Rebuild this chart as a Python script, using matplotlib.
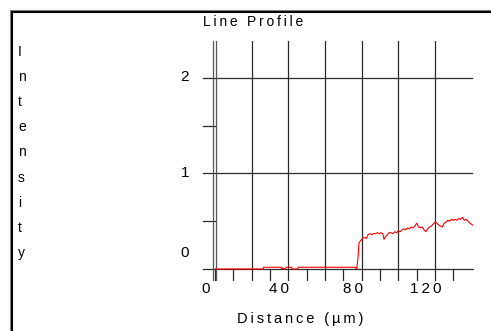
import matplotlib
matplotlib.use("Agg")
import matplotlib.pyplot as plt
from matplotlib.lines import Line2D

plt.rcParams['font.family'] = ['Liberation Sans', 'DejaVu Sans']

# line profile (distance in um, intensity)
distance = [0, 26.3, 26.5, 36, 36.4, 37, 38, 39, 41.8, 42, 45, 45.3, 76.5, 77, 77.3,
            78, 78.5, 79.5, 80.5, 81.5, 82.5, 83.5, 84.5, 85.5, 86.5, 87.5, 88.5, 89.5,
            90.5, 91.5, 92.2, 93, 94, 95, 96, 97, 98, 99, 100, 101, 102, 103, 104, 105,
            106, 107, 108, 109, 110, 111, 112, 113, 114, 115, 116, 117, 118, 119, 120,
            121, 122, 123, 124, 125, 126, 127, 128, 129, 130, 131, 132, 133, 134, 135,
            136, 137, 138, 139, 140.5]
intensity = [0, 0, 0.018, 0.018, 0.0, 0.012, 0.0, 0.018, 0.018, 0.0, 0.0, 0.018, 0.018,
             0.0, 0.0, 0.12, 0.27, 0.30, 0.32, 0.33, 0.32, 0.36, 0.37, 0.36, 0.37, 0.37,
             0.38, 0.37, 0.38, 0.37, 0.31, 0.34, 0.36, 0.38, 0.38, 0.37, 0.39, 0.38, 0.40,
             0.39, 0.41, 0.42, 0.41, 0.43, 0.42, 0.44, 0.43, 0.45, 0.48, 0.44, 0.43, 0.44,
             0.41, 0.39, 0.42, 0.44, 0.45, 0.47, 0.49, 0.48, 0.46, 0.45, 0.44, 0.48, 0.49,
             0.51, 0.50, 0.52, 0.51, 0.52, 0.51, 0.53, 0.52, 0.54, 0.51, 0.52, 0.50, 0.48,
             0.46]

x_labels = [0, 40, 80, 120]
y_labels = [0, 1, 2]
x_grid = [20, 40, 60, 80, 100, 120]
x_minor = [0, 10, 30, 50, 70, 90, 110, 130]
y_minor = [0.5, 1.5]

W, H = 491, 331
fig = plt.figure(figsize=(W / 100, H / 100), dpi=100)

# frame in the corner
fig.add_artist(Line2D([9.5 / W, 1], [1 - 9.5 / H, 1 - 9.5 / H], color='#888888', lw=0.8))
fig.add_artist(Line2D([9.5 / W, 9.5 / W], [0, 1 - 9.5 / H], color='#888888', lw=0.8))
fig.add_artist(Line2D([11.5 / W, 1], [1 - 11.5 / H, 1 - 11.5 / H], color='black', lw=1.5))
fig.add_artist(Line2D([11.5 / W, 11.5 / W], [0, 1 - 11.5 / H], color='black', lw=1.5))

ax = fig.add_axes([202.2 / W, 49.6 / H, 271.3 / W, 240.4 / H])
ax.set_xlim(-7, 141)
ax.set_ylim(-0.13, 2.387)
ax.axis('off')

gc = '#2a2a2a'
lw = 0.9
# grid and axes
for g in x_grid:
    ax.plot([g, g], [-0.12, 2.387], color=gc, lw=lw)
for t in x_minor:
    ax.plot([t, t], [-0.12, 0], color=gc, lw=lw)
for yv in [1, 2]:
    ax.plot([-6.5, 140], [yv, yv], color=gc, lw=lw)
for t in y_minor:
    ax.plot([-6.5, 0], [t, t], color=gc, lw=lw)
ax.plot([-6.5, 141], [0, 0], color=gc, lw=lw)
ax.plot([-1.3, -1.3], [-0.12, 2.387], color='#555555', lw=lw)
ax.plot([0.3, 0.3], [-0.12, 2.387], color='#555555', lw=lw)

ax.plot(distance, intensity, color='#ff0000', lw=0.8)

ts = '\u2009'
for v in x_labels:
    ax.text(v - 5, -0.21, ts.join(str(v)), ha='center', va='center', fontsize=11)
y_pos = {0: 0.17, 1: 1.0, 2: 2.01}
for v in y_labels:
    ax.text(-16.5, y_pos[v], str(v), ha='center', va='center', fontsize=11)

fig.text(253 / W, 1 - 22 / H, ts.join('Line Profile'), ha='center', va='center', fontsize=10)
fig.text(300 / W, 1 - 319 / H, ts.join('Distance (µm)'), ha='center', va='center', fontsize=10.5)

for i, ch in enumerate('Intensity'):
    fig.text(18 / W, 1 - (51.7 + i * 25.2) / H, ch, ha='left', va='center', fontsize=10)

fig.savefig('out.png', dpi=100)
